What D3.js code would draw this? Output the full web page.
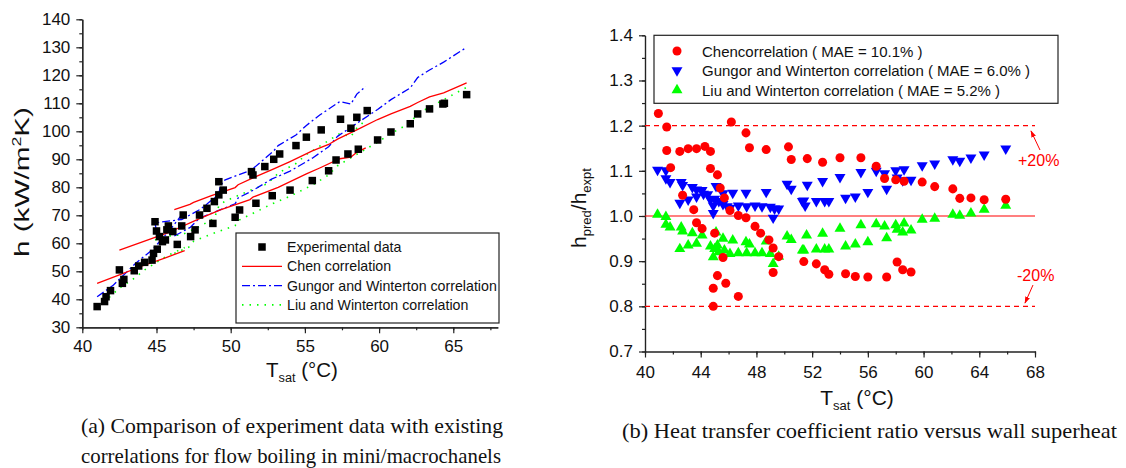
<!DOCTYPE html>
<html>
<head>
<meta charset="utf-8">
<script src="https://cdn.jsdelivr.net/npm/d3@7"></script>
<style>
  html, body { margin: 0; padding: 0; background: #fff; }
  svg { display: block; }
  .ax text { font-family: "Liberation Sans", Arial, sans-serif; font-size: 17px; fill: #111; }
  .ax path, .ax line { stroke: #222; stroke-width: 1.2; }
</style>
</head>
<body>
<svg id="fig" width="1126" height="468"></svg>
<script>
// ---------- (a) measured heat transfer coefficient, h (kW/m2K) vs Tsat ----------
const experimental = [
  [41.0,37.4],[41.5,39.2],[41.6,40.9],[41.9,43.1],[42.5,50.5],[42.8,47.1],[42.7,45.7],
  [43.5,50.2],[43.8,51.9],[44.2,53.2],[44.7,54.0],[44.9,67.7],[45.0,64.4],[44.8,56.4],
  [45.05,57.9],[45.2,62.4],[45.4,60.6],[45.6,61.2],[45.7,64.8],[45.8,66.2],[46.4,59.6],
  [46.1,64.2],[46.7,66.2],[46.8,70.1],[47.3,62.4],[47.6,64.8],[47.9,70.1],[48.4,72.5],
  [49.2,82.0],[49.5,79.0],[49.2,77.3],[48.9,74.9],[48.8,67.1],[50.3,69.3],[50.6,71.9],
  [51.7,74.3],[51.5,84.4],[51.4,85.6],[52.3,87.4],[52.9,90.0],[53.3,91.9],[54.4,94.9],
  [55.1,97.9],[56.1,100.5],[52.8,77.0],[54.0,79.0],[55.5,82.4],[56.6,85.9],[57.1,89.75],
  [57.9,91.9],[57.4,104.3],[58.5,105.0],[59.2,107.4],[58.1,101.1],[58.6,93.6],[59.9,96.9],
  [60.8,99.75],[62.1,102.7],[62.6,106.2],[63.4,108.0],[64.3,109.75],[64.4,110.0],[65.9,113.1]
];

// predicted h, one polyline per test run
const chenLines = [
  [[41.0,45.7],[42.5,48.7],[44.0,51.8],[45.6,54.8],[46.9,57.4]],
  [[42.5,57.6],[45.7,63.6],[47.9,68.8],[49.3,71.9],[51.3,75.6],[51.5,76.5],[53.2,80.0],[55.1,84.8],
   [56.0,86.9],[57.35,90.2],[58.1,90.8],[58.5,92.5],[59.1,94.1]],
  [[46.2,72.0],[47.25,73.9],[47.5,74.6],[48.7,77.0],[50.3,79.9],[50.5,80.9],[51.65,83.7],[52.75,86.2],
   [54.0,89.2],[55.5,93.0],[56.6,95.3],[57.2,97.2],[58.6,100.8],[59.9,104.2],[60.8,106.2],[62.1,108.9],
   [62.6,110.3],[63.4,112.3],[64.35,113.7],[65.9,117.3]]
];
const gungorLines = [
  [[41.0,40.9],[42.1,45.1],[43.6,52.9],[44.7,57.6],[45.9,64.7],[46.6,69.5]],
  [[45.0,64.2],[44.9,67.3],[46.7,68.5],[47.9,72.0],[48.4,74.0],[49.2,77.5],[49.3,80.5],[49.6,82.6],
   [51.4,86.2],[52.3,90.3],[52.9,93.0],[53.2,94.9],[54.4,98.7],[55.1,102.1],[56.0,105.8],[57.35,110.6],
   [58.1,109.7],[58.5,113.3],[59.1,116.0]],
  [[46.2,62.6],[47.25,65.6],[47.9,69.0],[48.7,70.7],[50.3,74.1],[50.5,76.2],[51.3,78.3],[51.65,79.4],
   [52.75,82.9],[54.0,85.8],[55.5,90.4],[56.6,94.5],[57.2,98.2],[58.6,103.2],[59.9,107.8],[60.8,111.3],
   [62.1,115.5],[62.6,119.2],[63.4,121.9],[64.35,124.7],[65.9,130.0]]
];
const liuLines = [
  [[41.0,37.5],[41.5,39.1],[42.5,44.0],[43.5,47.5],[44.2,50.5],[45.7,55.5],[46.9,58.5]],
  [[44.9,61.2],[45.6,62.5],[46.7,63.0],[47.9,66.0],[48.9,69.0],[49.2,73.3],[49.6,75.0],[51.4,79.1],
   [52.3,80.9],[52.9,83.3],[53.2,85.1],[54.4,88.5],[55.1,91.7],[56.0,94.7],[57.35,99.2],[58.1,98.1],
   [58.5,101.2],[59.1,104.0]],
  [[46.2,56.4],[47.25,58.8],[47.5,60.7],[48.7,63.3],[50.3,66.3],[50.5,68.1],[51.65,71.1],[52.75,74.0],
   [54.0,76.8],[55.5,80.8],[56.6,84.4],[57.2,87.7],[58.6,92.1],[59.9,96.1],[60.8,99.2],[62.1,103.0],
   [62.6,106.3],[63.4,108.6],[64.35,111.3],[65.9,115.7]]
];
const legendA = ["Experimental data", "Chen correlation", "Gungor and Winterton correlation", "Liu and Winterton correlation"];
const ticksAx = [40, 45, 50, 55, 60, 65];
const ticksAy = [30, 40, 50, 60, 70, 80, 90, 100, 110, 120, 130, 140];

// ---------- (b) ratio h_pred / h_expt vs Tsat ----------
const chenRatio = [
  [40.96,1.227],[41.56,1.197],[41.56,1.145],[41.84,1.107],[42.5,1.143],[43.1,1.149],[43.7,1.149],
  [44.3,1.154],[44.7,1.143],[44.7,1.105],[45.2,1.091],[42.7,1.046],[43.5,1.014],[43.7,0.985],
  [44.1,0.972],[45.0,0.962],[45.4,1.062],[45.7,1.040],[46.1,1.012],[46.7,1.001],[47.25,0.996],
  [47.9,0.977],[48.3,0.962],[48.9,0.947],[49.2,0.929],[49.6,0.910],[45.6,0.908],[45.2,0.868],
  [45.8,0.851],[44.9,0.840],[44.9,0.800],[46.7,0.822],[49.2,0.875],[51.4,0.899],[52.3,0.894],
  [52.9,0.881],[53.2,0.871],[54.4,0.872],[55.1,0.866],[56.0,0.865],[57.35,0.865],[58.1,0.898],
  [58.5,0.881],[59.1,0.876],[46.2,1.208],[47.25,1.184],[47.5,1.151],[48.7,1.147],[50.3,1.153],
  [50.5,1.125],[51.65,1.127],[52.75,1.119],[54.0,1.129],[55.5,1.129],[56.6,1.110],[57.2,1.083],
  [58.0,1.080],[58.6,1.077],[59.9,1.075],[60.8,1.065],[62.1,1.060],[62.6,1.039],[63.4,1.040],
  [64.35,1.036],[65.9,1.037]
];
const gungorRatio = [
  [40.9,1.102],[41.5,1.101],[41.5,1.083],[41.8,1.075],[42.6,1.075],[42.7,1.068],[42.5,1.029],
  [43.1,1.036],[43.4,1.064],[43.7,1.043],[43.7,1.058],[44.1,1.057],[44.2,1.049],[44.5,1.048],
  [44.7,1.036],[44.9,1.023],[45.0,1.038],[45.1,1.066],[44.9,1.006],[45.3,1.033],[45.6,1.026],
  [45.9,1.021],[45.6,1.050],[46.1,1.018],[46.3,1.051],[46.7,1.023],[47.25,1.051],[47.3,1.021],
  [47.9,1.023],[48.4,1.021],[48.7,1.053],[49.0,1.020],[49.3,1.016],[49.6,1.016],[49.2,0.996],
  [50.2,1.071],[50.5,1.060],[51.3,1.033],[51.5,1.023],[51.65,1.069],[52.75,1.077],[54.0,1.086],
  [55.5,1.097],[56.6,1.100],[57.2,1.094],[58.0,1.101],[58.6,1.103],[58.1,1.085],[58.5,1.079],
  [59.1,1.080],[57.35,1.060],[56.0,1.053],[55.1,1.043],[54.4,1.040],[53.2,1.033],[52.9,1.033],
  [52.3,1.033],[51.4,1.034],[59.9,1.112],[60.8,1.116],[62.1,1.125],[62.6,1.122],[63.4,1.129],
  [64.35,1.136],[65.9,1.149]
];
const liuRatio = [
  [40.9,1.003],[41.5,0.998],[41.5,0.981],[41.8,0.975],[42.6,0.975],[42.7,0.966],[42.5,0.927],
  [43.1,0.935],[43.4,0.962],[43.7,0.939],[44.1,0.957],[44.7,0.933],[44.9,0.909],[45.0,0.927],
  [45.1,0.964],[45.2,0.935],[45.3,0.920],[45.6,0.950],[45.7,0.924],[46.1,0.916],[46.3,0.946],
  [46.7,0.918],[47.25,0.942],[47.3,0.918],[47.5,0.937],[47.9,0.918],[48.4,0.918],[48.7,0.944],
  [49.0,0.916],[49.2,0.894],[49.6,0.910],[50.2,0.955],[50.5,0.947],[51.3,0.924],[51.6,0.957],
  [52.75,0.961],[54.0,0.972],[55.5,0.980],[56.6,0.982],[57.2,0.977],[58.0,0.980],[58.6,0.984],
  [58.1,0.970],[58.5,0.964],[59.1,0.968],[57.35,0.951],[56.0,0.942],[55.1,0.937],[54.4,0.933],
  [53.2,0.926],[52.9,0.926],[52.3,0.926],[51.4,0.924],[59.9,0.992],[60.8,0.994],[62.1,1.003],
  [62.6,1.001],[63.4,1.006],[64.35,1.014],[65.9,1.023]
];
const legendB = ["Chencorrelation ( MAE = 10.1% )", "Gungor and Winterton correlation ( MAE = 6.0% )", "Liu and Winterton correlation ( MAE = 5.2% )"];
const ticksBx = [40, 44, 48, 52, 56, 60, 64, 68];
const ticksBy = [0.7, 0.8, 0.9, 1.0, 1.1, 1.2, 1.3, 1.4];
const bandLevels = [1.2, 0.8];   // ±20 % limits
const bandLabels = ["+20%", "-20%"];

const captionA = ["(a) Comparison of experiment data with existing", "correlations for flow boiling in mini/macrochanels"];
const captionB = "(b) Heat transfer coefficient ratio versus wall superheat";

const RED = "#ff0000", BLUE = "#0000ff", GREEN = "#00ff00";
const SANS = "'Liberation Sans', Arial, sans-serif";
const SERIF = "'Liberation Serif', 'Times New Roman', serif";

const svg = d3.select("#fig");

function drawAxes(g, x, y, xt, yt, xMinor, yMinor, yFmt, xPad) {
  const [x0] = x.range(), [y0] = y.range();
  g.append("g").attr("class", "ax").attr("transform", `translate(0,${y0})`)
    .call(d3.axisBottom(x).tickValues(xMinor).tickSize(3).tickFormat("").tickSizeOuter(0));
  g.append("g").attr("class", "ax").attr("transform", `translate(0,${y0})`)
    .call(d3.axisBottom(x).tickValues(xt).tickSize(6).tickPadding(xPad).tickSizeOuter(0).tickFormat(d3.format("d")));
  g.append("g").attr("class", "ax").attr("transform", `translate(${x0},0)`)
    .call(d3.axisLeft(y).tickValues(yMinor).tickSize(3).tickFormat("").tickSizeOuter(0));
  g.append("g").attr("class", "ax").attr("transform", `translate(${x0},0)`)
    .call(d3.axisLeft(y).tickValues(yt).tickSize(6).tickPadding(6).tickSizeOuter(0).tickFormat(yFmt));
}

function tsatLabel(g, cx, by, fs) {
  const t = g.append("text").attr("x", cx).attr("y", by).attr("text-anchor", "middle")
    .attr("font-family", SANS).attr("font-size", fs).attr("fill", "#111");
  t.append("tspan").text("T");
  t.append("tspan").attr("font-size", fs * 0.62).attr("dy", 5).text("sat");
  t.append("tspan").attr("dy", -5).text(" (°C)");
}

// ================= panel (a) =================
const xA = d3.scaleLinear().domain([40, 68]).range([82.3, 497.8]);
const yA = d3.scaleLinear().domain([30, 140]).range([327.3, 19.3]);
const gA = svg.append("g");

drawAxes(gA, xA, yA, ticksAx, ticksAy, d3.range(40, 68.1, 2.5), d3.range(30, 140.1, 5), d3.format("d"), 7);

const lineA = d3.line().x(d => xA(d[0])).y(d => yA(d[1]));
const styleChen = s => s.attr("stroke", RED).attr("stroke-width", 1.3).attr("fill", "none");
const styleGungor = s => s.attr("stroke", BLUE).attr("stroke-width", 1.3).attr("fill", "none").attr("stroke-dasharray", "8,3,2,3");
const styleLiu = s => s.attr("stroke", GREEN).attr("stroke-width", 1.6).attr("fill", "none").attr("stroke-dasharray", "1.5,6");

gA.append("g").selectAll("path").data(liuLines).join("path").attr("d", lineA).call(styleLiu);
gA.append("g").selectAll("path").data(gungorLines).join("path").attr("d", lineA).call(styleGungor);
gA.append("g").selectAll("path").data(chenLines).join("path").attr("d", lineA).call(styleChen);

const SQ = 7.5;
gA.append("g").selectAll("rect").data(experimental).join("rect")
  .attr("x", d => xA(d[0]) - SQ / 2).attr("y", d => yA(d[1]) - SQ / 2)
  .attr("width", SQ).attr("height", SQ).attr("fill", "#000");

// legend (a)
const lgA = gA.append("g");
lgA.append("rect").attr("x", 236).attr("y", 233).attr("width", 263).attr("height", 90)
  .attr("fill", "#fff").attr("stroke", "#222").attr("stroke-width", 1.2);
legendA.forEach((label, i) => {
  const cy = 247 + i * 19.3;
  if (i === 0) {
    lgA.append("rect").attr("x", 262 - SQ / 2).attr("y", cy - SQ / 2).attr("width", SQ).attr("height", SQ).attr("fill", "#000");
  } else {
    const p = lgA.append("line").attr("x1", 242).attr("x2", 282).attr("y1", cy).attr("y2", cy);
    [styleChen, styleGungor, styleLiu][i - 1](p);
  }
  lgA.append("text").attr("x", 287).attr("y", cy + 5).attr("font-family", SANS).attr("font-size", 14.2)
    .attr("fill", "#111").text(label);
});

// axis titles (a)
const yTitleA = gA.append("text").attr("transform", "translate(29,182) rotate(-90)").attr("text-anchor", "middle")
  .attr("font-family", SANS).attr("font-size", 20).attr("fill", "#111")
  .attr("textLength", 150).attr("lengthAdjust", "spacingAndGlyphs");
yTitleA.append("tspan").text("h (kW/m");
yTitleA.append("tspan").attr("font-size", 12).attr("dy", -8).text("2");
yTitleA.append("tspan").attr("dy", 8).text("K)");
tsatLabel(gA, 302, 377, 20.5);

// ================= panel (b) =================
const xB = d3.scaleLinear().domain([40, 68]).range([645, 1035]);
const yB = d3.scaleLinear().domain([0.7, 1.4]).range([351.5, 35.3]);
const gB = svg.append("g");

drawAxes(gB, xB, yB, ticksBx, ticksBy, d3.range(40, 68.1, 2), d3.range(0.7, 1.401, 0.05), d3.format(".1f"), 8);

// reference lines
gB.append("line").attr("x1", xB(40)).attr("x2", xB(68)).attr("y1", yB(1.0)).attr("y2", yB(1.0))
  .attr("stroke", RED).attr("stroke-width", 1.2);
gB.selectAll(".band").data(bandLevels).join("line").attr("class", "band")
  .attr("x1", xB(40)).attr("x2", xB(68)).attr("y1", d => yB(d)).attr("y2", d => yB(d))
  .attr("stroke", RED).attr("stroke-width", 1.2).attr("stroke-dasharray", "5,4");

const circle = d3.symbol().type(d3.symbolCircle).size(64);
const triUp = d3.symbol().type(d3.symbolTriangle).size(52);

gB.append("g").selectAll("path").data(liuRatio).join("path")
  .attr("transform", d => `translate(${xB(d[0])},${yB(d[1])})`).attr("d", triUp).attr("fill", GREEN);
gB.append("g").selectAll("path").data(gungorRatio).join("path")
  .attr("transform", d => `translate(${xB(d[0])},${yB(d[1])}) rotate(180)`).attr("d", triUp).attr("fill", BLUE);
gB.append("g").selectAll("path").data(chenRatio).join("path")
  .attr("transform", d => `translate(${xB(d[0])},${yB(d[1])})`).attr("d", circle).attr("fill", RED);

// ±20 % annotations
const defs = svg.append("defs");
defs.append("marker").attr("id", "arrowRed").attr("viewBox", "0 0 10 10").attr("refX", 9).attr("refY", 5)
  .attr("markerWidth", 7).attr("markerHeight", 7).attr("orient", "auto")
  .append("path").attr("d", "M0,1.5 L10,5 L0,8.5 Z").attr("fill", RED);
gB.append("line").attr("x1", 1040).attr("y1", 150).attr("x2", 1031).attr("y2", 131)
  .attr("stroke", RED).attr("stroke-width", 1).attr("marker-end", "url(#arrowRed)");
gB.append("line").attr("x1", 1033).attr("y1", 285).attr("x2", 1025).attr("y2", 303)
  .attr("stroke", RED).attr("stroke-width", 1).attr("marker-end", "url(#arrowRed)");
gB.append("text").attr("x", 1018).attr("y", 166).attr("font-family", SANS).attr("font-size", 16)
  .attr("fill", RED).text(bandLabels[0]);
gB.append("text").attr("x", 1017).attr("y", 281).attr("font-family", SANS).attr("font-size", 16)
  .attr("fill", RED).text(bandLabels[1]);

// legend (b)
const lgB = gB.append("g");
lgB.append("rect").attr("x", 654).attr("y", 35.3).attr("width", 404).attr("height", 68)
  .attr("fill", "#fff").attr("stroke", "#222").attr("stroke-width", 1.2);
[[circle, RED, 0], [triUp, BLUE, 180], [triUp, GREEN, 0]].forEach(([sym, col, rot], i) => {
  const cy = 51 + i * 19.5;
  lgB.append("path").attr("transform", `translate(677,${cy}) rotate(${rot})`).attr("d", sym).attr("fill", col);
  lgB.append("text").attr("x", 702).attr("y", cy + 5.5).attr("font-family", SANS).attr("font-size", 15)
    .attr("fill", "#111").text(legendB[i]);
});

// axis titles (b)
const yTitleB = gB.append("text").attr("transform", "translate(586,208) rotate(-90)").attr("text-anchor", "middle")
  .attr("font-family", SANS).attr("font-size", 21).attr("fill", "#111");
yTitleB.append("tspan").text("h");
yTitleB.append("tspan").attr("font-size", 13).attr("dy", 5).text("pred");
yTitleB.append("tspan").attr("dy", -5).text("/h");
yTitleB.append("tspan").attr("font-size", 13).attr("dy", 5).text("expt");
tsatLabel(gB, 857, 405, 21);

// ================= captions =================
const capLen = [422, 420];
captionA.forEach((line, i) => {
  svg.append("text").attr("x", 81).attr("y", 433 + i * 30).attr("font-family", SERIF).attr("font-size", 21)
    .attr("textLength", capLen[i]).attr("lengthAdjust", "spacingAndGlyphs")
    .attr("fill", "#111").text(line);
});
svg.append("text").attr("x", 622).attr("y", 438).attr("font-family", SERIF).attr("font-size", 21)
  .attr("textLength", 495).attr("lengthAdjust", "spacingAndGlyphs")
  .attr("fill", "#111").text(captionB);
</script>
</body>
</html>
